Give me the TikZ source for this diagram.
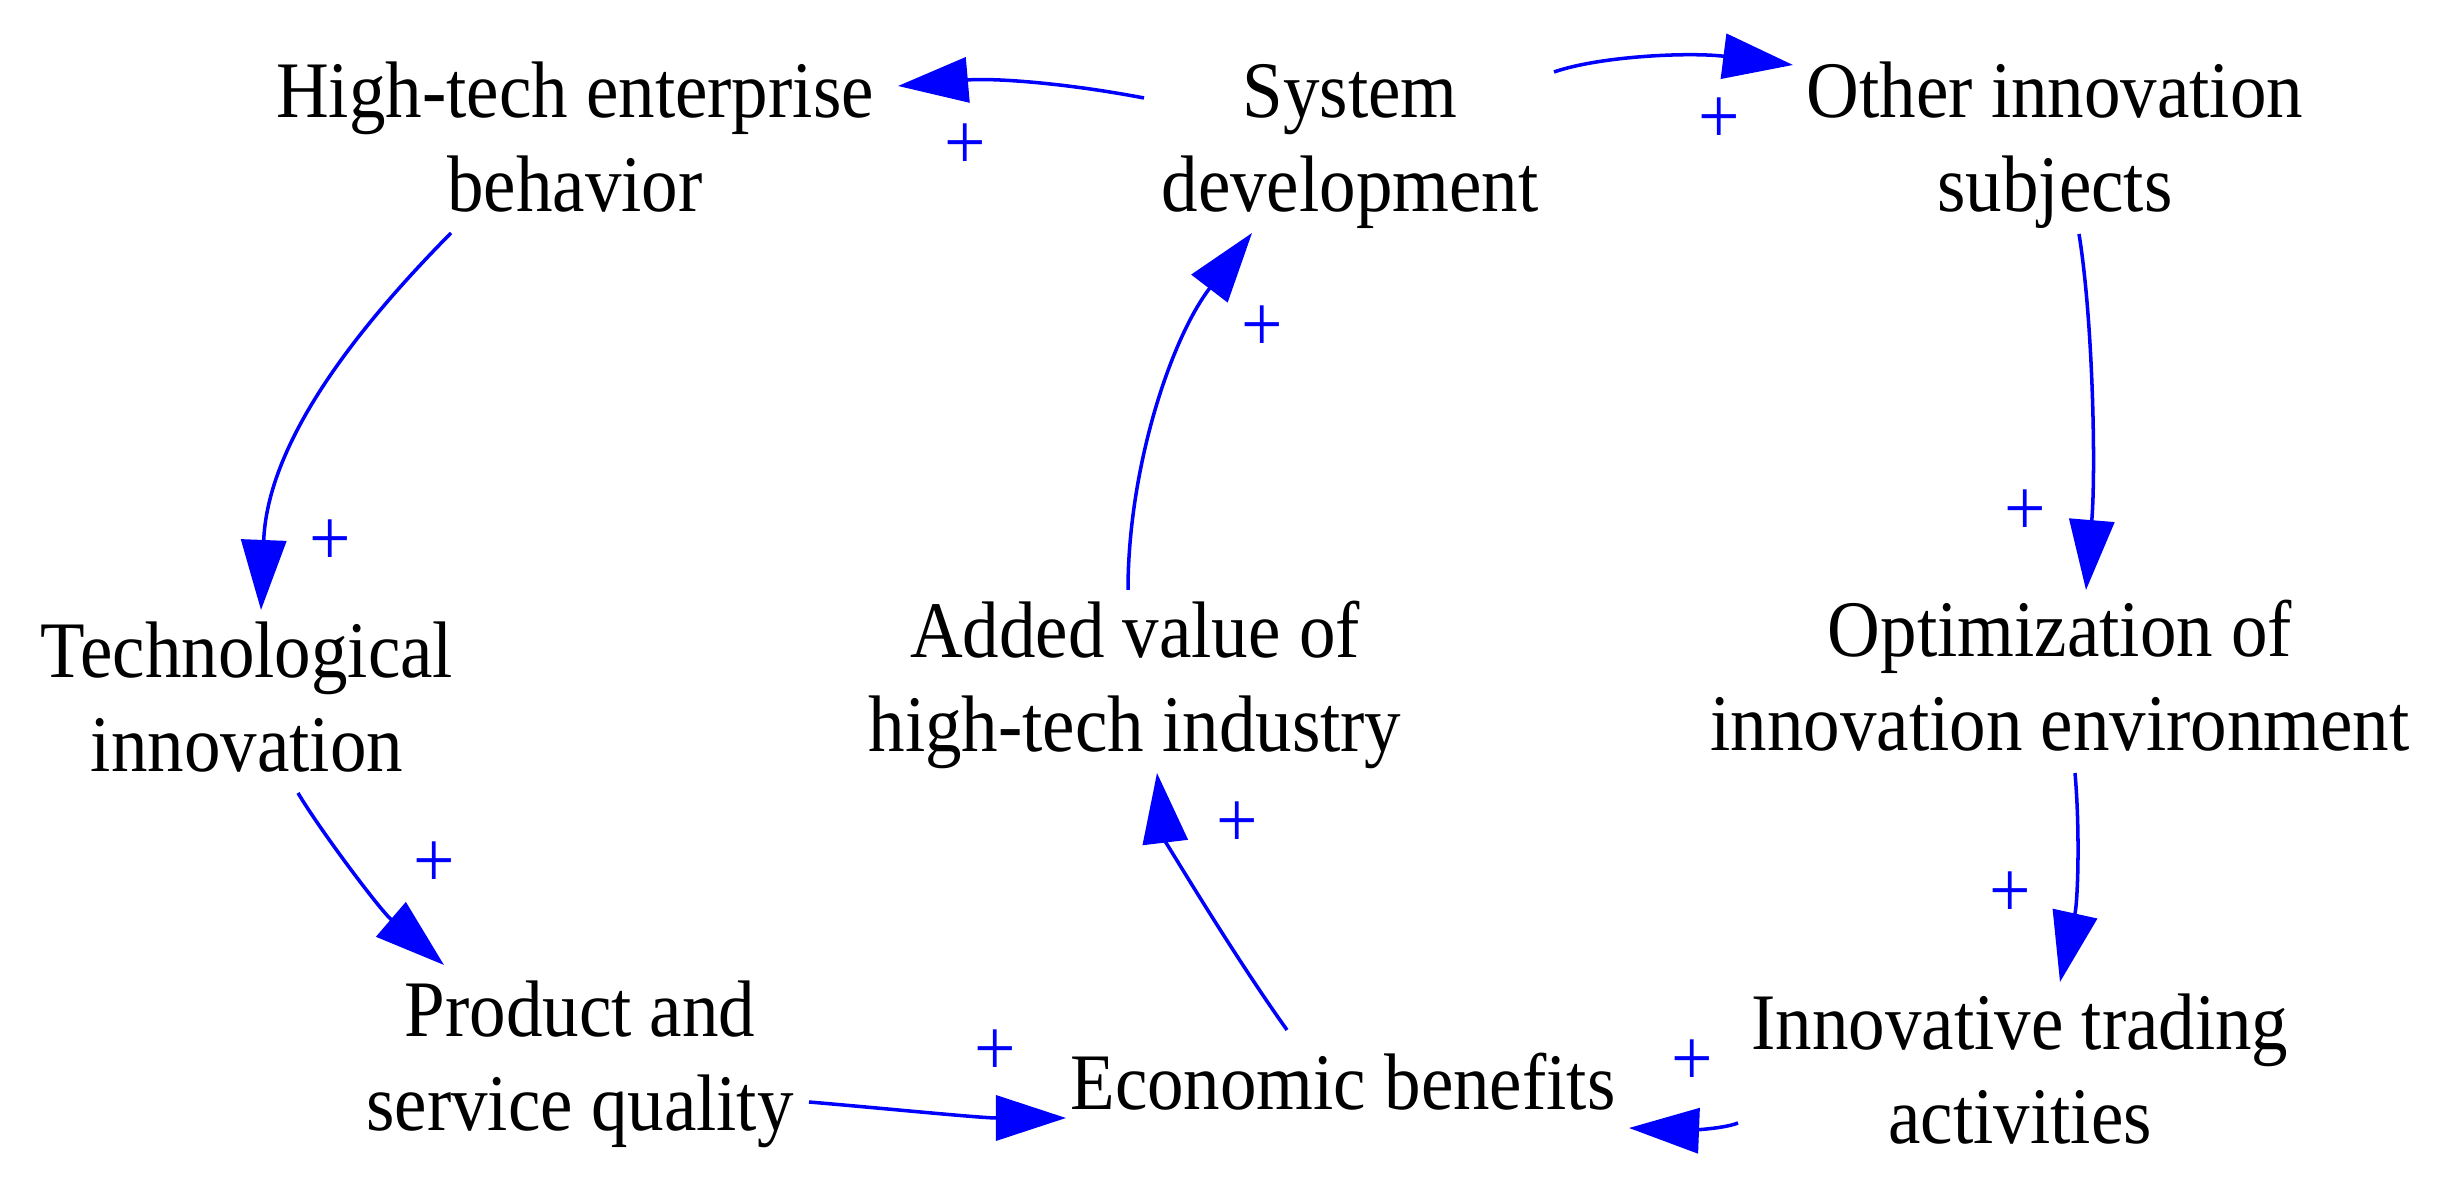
\documentclass[tikz,border=0pt]{standalone}
\usepackage{fontspec}
\setmainfont{Liberation Serif}[FakeStretch=0.91]
\usetikzlibrary{arrows.meta,calc}
\definecolor{linkblue}{RGB}{0,0,255}
\tikzset{
  lbl/.style={align=center, inner sep=0pt, text=black,
    font=\fontsize{22.8pt}{26.7pt}\selectfont},
  link/.style={draw=linkblue, line width=1pt,
    -{Triangle[length=0.7cm,width=0.45cm]}},
  plus/.style={inner sep=0pt, text=linkblue,
    font=\fontsize{23pt}{26pt}\selectfont}
}
\begin{document}
\begin{tikzpicture}[x=0.01cm,y=-0.01cm]
\useasboundingbox[fill=white] (0,0) rectangle (2438,1201);
% variables
\node[lbl] (HT)  at (575,146)  {\strut High-tech enterprise\\\strut behavior};
\node[lbl] (SD)  at (1350,146) {\strut System\\\strut development};
\node[lbl] (OIS) at (2055,146) {\strut Other innovation\\\strut subjects};
\node[lbl] (TI)  at (247,706)  {\strut Technological\\\strut innovation};
\node[lbl] (AV)  at (1135,686) {\strut Added value of\\\strut high-tech industry};
\node[lbl] (OE)  at (2060,685) {\strut Optimization of\\\strut innovation environment};
\node[lbl] (PS)  at (580,1065) {\strut Product and\\\strut service quality};
\node[lbl] (EB)  at (1343,1091) {\strut Economic benefits};
\node[lbl] (IT)  at (2020,1078) {\strut Innovative trading\\\strut activities};
% causal links
\draw[link] ($(SD)+(-206,-48)$) .. controls (1060,82) and (990,78) .. ($(HT)+(323,-60)$);
\draw[link] ($(SD)+(204,-74)$) .. controls (1600,56) and (1690,52) .. ($(OIS)+(-262,-81)$);
\draw[link] ($(HT)+(-124,87)$) .. controls (380,305) and (268,430) .. ($(TI)+(14,-96)$);
\draw[link] ($(TI)+(51,87)$) .. controls (320,830) and (380,910) .. ($(PS)+(-136,-100)$);
\draw[link] ($(PS)+(229,37)$) .. controls (880,1108) and (980,1118) .. ($(EB)+(-277,27)$);
\draw[link] ($(EB)+(-56,-61)$) .. controls (1230,950) and (1165,840) .. ($(AV)+(22,87)$);
\draw[link] ($(AV)+(-7,-96)$) .. controls (1128,470) and (1170,340) .. ($(SD)+(-98,87)$);
\draw[link] ($(OIS)+(24,88)$) .. controls (2093,320) and (2096,470) .. ($(OE)+(26,-95)$);
\draw[link] ($(OE)+(15,88)$) .. controls (2080,830) and (2078,900) .. ($(IT)+(40,-96)$);
\draw[link] ($(IT)+(-282,45)$) .. controls (1720,1130) and (1680,1130) .. ($(EB)+(286,37)$);
% polarity signs
\node[plus] (p1)  at (965,147)  {+};
\node[plus] (p2)  at (1719,121) {+};
\node[plus] (p3)  at (330,543)  {+};
\node[plus] (p4)  at (434,865)  {+};
\node[plus] (p5)  at (995,1053) {+};
\node[plus] (p6)  at (1237,825) {+};
\node[plus] (p7)  at (1262,329) {+};
\node[plus] (p8)  at (2025,513) {+};
\node[plus] (p9)  at (2010,895) {+};
\node[plus] (p10) at (1692,1063) {+};
\end{tikzpicture}
\end{document}
